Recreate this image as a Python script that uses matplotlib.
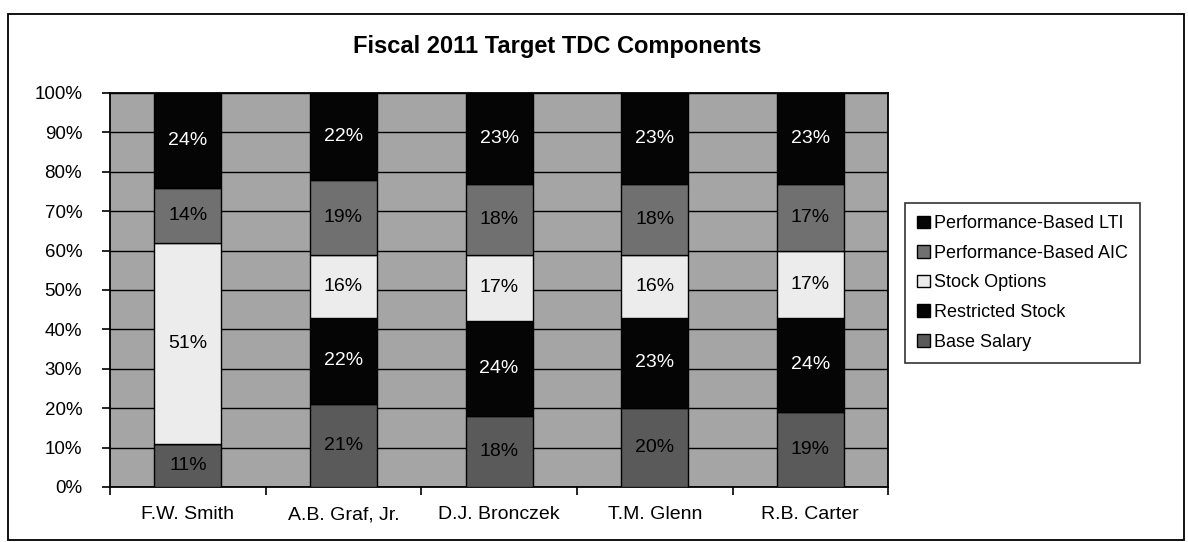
import matplotlib.pyplot as plt
import matplotlib.patches as mpatches
import numpy as np

names = ['F.W. Smith', 'A.B. Graf, Jr.', 'D.J. Bronczek', 'T.M. Glenn', 'R.B. Carter']

# stacked from the bottom up, percent of target TDC
base_salary = [11, 21, 18, 20, 19]
restricted_stock = [0, 22, 24, 23, 24]
stock_options = [51, 16, 17, 16, 17]
perf_aic = [14, 19, 18, 18, 17]
perf_lti = [24, 22, 23, 23, 23]

series = [
    ('Base Salary', base_salary, '#5a5a5a', 'black'),
    ('Restricted Stock', restricted_stock, '#050505', 'white'),
    ('Stock Options', stock_options, '#ececec', 'black'),
    ('Performance-Based AIC', perf_aic, '#707070', 'black'),
    ('Performance-Based LTI', perf_lti, '#050505', 'white'),
]

fig = plt.figure(figsize=(11.88, 5.42), dpi=100)
ax = fig.add_axes([0.0926, 0.1015, 0.655, 0.727])

# outer chart border
fig.patches.append(mpatches.Rectangle((0.007, 0.004), 0.99, 0.97, transform=fig.transFigure,
                                      fill=False, edgecolor='black', linewidth=1.3))

ax.set_facecolor('#a5a5a5')
x = np.arange(len(names))
bottom = np.zeros(len(names))
handles = []
for label, vals, color, tcolor in series:
    vals = np.array(vals, dtype=float)
    bars = ax.bar(x, vals, 0.43, bottom=bottom, color=color, edgecolor='black',
                  linewidth=1.0, zorder=3)
    for xi, v, b in zip(x, vals, bottom):
        if v > 0:
            ax.text(xi, b + v / 2, f'{int(v)}%', ha='center', va='center',
                    fontsize=14, color=tcolor, family='Liberation Sans', zorder=4)
    bottom += vals
    handles.append(mpatches.Patch(facecolor=color, edgecolor='black', label=label))

ax.set_xlim(-0.5, len(names) - 0.5)
ax.set_ylim(0, 100)
ax.set_yticks(range(0, 101, 10))
ax.set_yticklabels([f'{v}%' for v in range(0, 101, 10)], fontsize=13.5, family='Liberation Sans')
ax.set_xticks(x)
ax.set_xticklabels(names, fontsize=14, family='Liberation Sans')
ax.set_xticks(np.arange(-0.5, len(names)), minor=True)
ax.tick_params(axis='x', which='major', length=0, pad=14)
ax.tick_params(axis='x', which='minor', length=6, width=1.2, direction='out')
ax.tick_params(axis='y', length=6, width=1.2, pad=14)
ax.grid(axis='y', color='black', linewidth=1.0, zorder=1)
ax.set_axisbelow(True)
for side in ['left', 'bottom', 'top', 'right']:
    ax.spines[side].set_linewidth(1.3)

fig.text(0.469, 0.915, 'Fiscal 2011 Target TDC Components', ha='center', va='center',
         fontsize=17, fontweight='bold', family='Liberation Sans')

leg = fig.legend(handles=handles[::-1], loc='upper left', bbox_to_anchor=(0.754, 0.643),
                 frameon=True, fancybox=False, edgecolor='black',
                 prop={'family': 'Liberation Sans', 'size': 13},
                 handlelength=0.7, handleheight=0.7, handletextpad=0.2, labelspacing=0.7,
                 borderpad=0.7)
leg.get_frame().set_linewidth(1.2)

fig.savefig('out.png', dpi=100)
